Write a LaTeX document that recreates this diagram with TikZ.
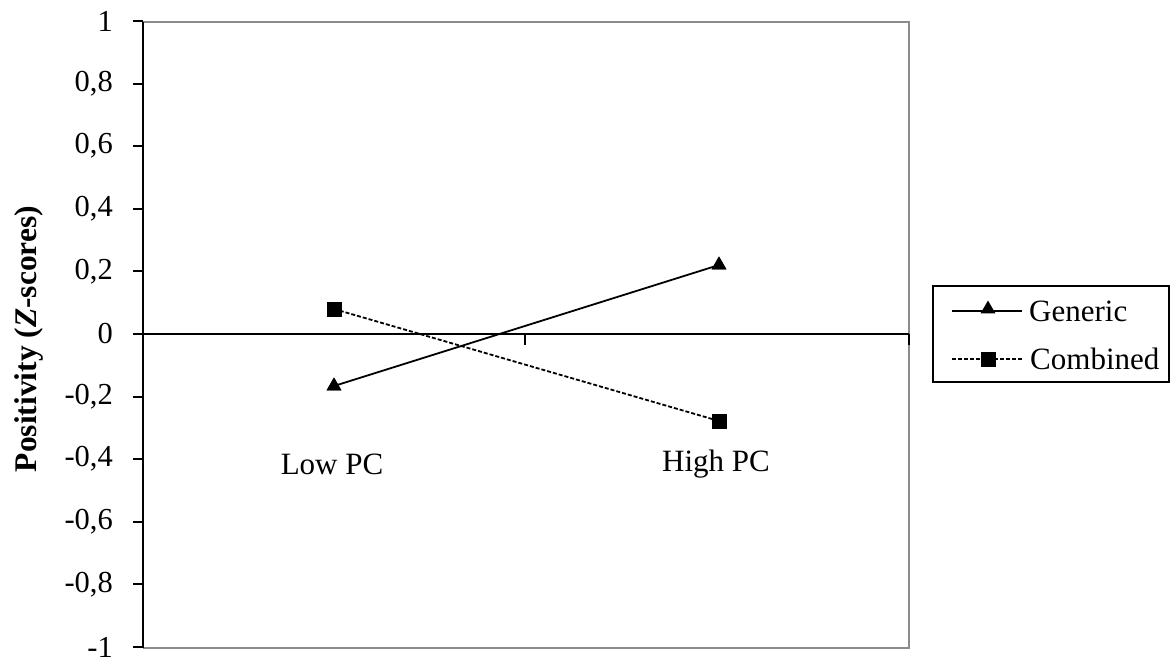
\documentclass[tikz,border=0pt]{standalone}
\usepackage{fontspec}
\setmainfont{Liberation Serif}
\usetikzlibrary{shapes.geometric}
\begin{document}
\begin{tikzpicture}[x=1pt,y=-1pt,
  axisline/.style={line width=2pt,black},
  frameline/.style={line width=2pt,black!45},
  tri/.style={regular polygon,regular polygon sides=3,fill=black,inner sep=0pt,minimum size=17pt},
  sq/.style={rectangle,fill=black,inner sep=0pt,minimum size=15pt},
  solidser/.style={line width=1.8pt,black},
  dashser/.style={line width=1.8pt,black,dash pattern=on 4pt off 2pt},
  ticklab/.style={anchor=east,inner sep=0pt,font=\fontsize{30.5}{30}\selectfont},
  txt/.style={inner sep=0pt,font=\fontsize{31}{31}\selectfont}]
\useasboundingbox (0,0) rectangle (1170,666);
% frame
\draw[frameline] (143,22) -- (909,22) -- (909,648) -- (143,648);
% y axis
\draw[axisline] (143,22) -- (143,648);
\foreach \v/\lab in {1/1,0.8/{0,8},0.6/{0,6},0.4/{0,4},0.2/{0,2},0/0,-0.2/{-0,2},-0.4/{-0,4},-0.6/{-0,6},-0.8/{-0,8},-1/-1}{
  \draw[axisline] (133,{334-313*\v}) -- (143,{334-313*\v});
  \node[ticklab] at (113,{334-313*\v}) {\lab};
}
% zero line
\draw[axisline] (143,334) -- (909,334);
\draw[axisline] (525,334) -- (525,345);
\draw[axisline] (909,334) -- (909,345);
% y title
\node[txt,rotate=90,font=\fontsize{31.5}{31.5}\selectfont\bfseries] (ytitle) at (29,339) {Positivity (\textit{Z}-scores)};
% category labels
\node[txt] (low) at (332,464) {Low PC};
\node[txt] (high) at (716,464) {High PC};
% data
\node[tri] (g1) at (334,386) {};
\node[tri] (g2) at (719,265) {};
\node[sq] (c1) at (334,309) {};
\node[sq] (c2) at (719,421) {};
\draw[solidser] (g1.center) -- (g2.center);
\draw[dashser] (c1.center) -- (c2.center);
\node[tri] at (g1) {};
\node[tri] at (g2) {};
\node[sq] at (c1) {};
\node[sq] at (c2) {};
% legend
\draw[line width=1.8pt,black] (933,286) rectangle (1169,382);
\coordinate (lg1) at (952,311);
\coordinate (lg2) at (1022,311);
\coordinate (lc1) at (952,359);
\coordinate (lc2) at (1022,359);
\draw[solidser] (lg1) -- (lg2);
\draw[dashser] (lc1) -- (lc2);
\node[tri] (lgm) at (988,309) {};
\node[sq] (lcm) at (988,359) {};
\node[txt,anchor=west] (lgt) at (1029,311) {Generic};
\node[txt,anchor=west] (lct) at (1030,359) {Combined};
\end{tikzpicture}
\end{document}
